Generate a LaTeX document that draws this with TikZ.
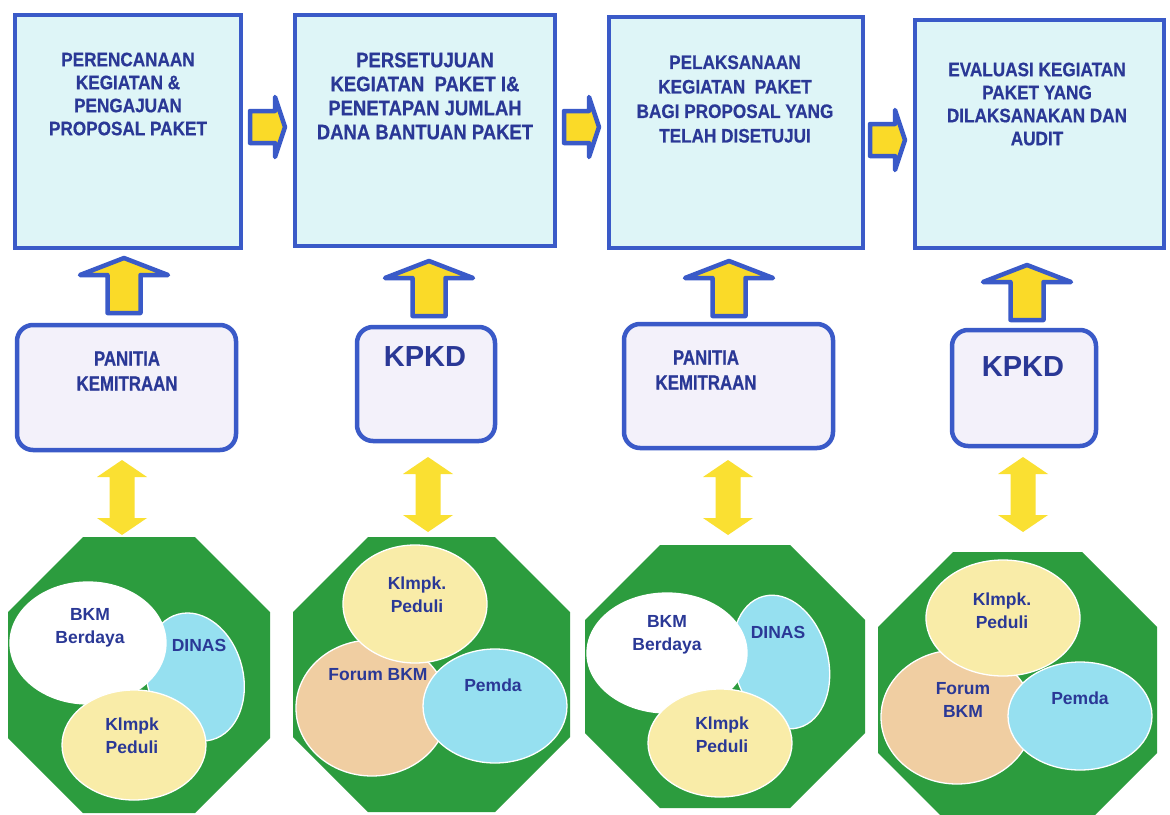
\documentclass[tikz,border=0pt]{standalone}
\usepackage{fontspec}
\setmainfont{Liberation Sans}
\newfontfamily\condfont[FakeStretch=0.82,FakeBold=0.6]{Liberation Sans}
\newfontfamily\topfont[FakeStretch=0.88,FakeBold=0.5]{Liberation Sans}
\usetikzlibrary{shapes.geometric,calc}
\definecolor{boxblue}{RGB}{58,90,200}
\definecolor{txtblue}{RGB}{42,56,150}
\definecolor{topfill}{RGB}{222,245,247}
\definecolor{midfill}{RGB}{243,241,250}
\definecolor{arrowyellow}{RGB}{250,218,40}
\definecolor{dblyellow}{RGB}{250,224,50}
\definecolor{octgreen}{RGB}{44,156,62}
\definecolor{ellyellow}{RGB}{249,236,168}
\definecolor{ellorange}{RGB}{240,206,162}
\definecolor{ellblue}{RGB}{150,224,240}
\tikzset{
 topbox/.style={rectangle, draw=boxblue, line width=4.5pt, fill=topfill, inner sep=0pt},
 midbox/.style={rectangle, draw=boxblue, line width=4.5pt, fill=midfill, rounded corners=16pt, inner sep=0pt},
 toptext/.style={text=txtblue, align=center, inner sep=0pt, font=\topfont\bfseries\fontsize{19.5}{23}\selectfont},
 toptextb/.style={text=txtblue, align=center, inner sep=0pt, font=\topfont\bfseries\fontsize{21}{24}\selectfont},
 toptextc/.style={text=txtblue, align=center, inner sep=0pt, font=\topfont\bfseries\fontsize{19.5}{24.5}\selectfont},
 pantext/.style={text=txtblue, align=center, inner sep=0pt, font=\condfont\bfseries\fontsize{20.5}{25}\selectfont},
 kpkdtext/.style={text=txtblue, align=center, inner sep=0pt, font=\bfseries\fontsize{29}{32}\selectfont},
 blockarrow/.style={draw=boxblue, line width=4.5pt, fill=arrowyellow, line join=round},
 dblarrow/.style={fill=dblyellow},
 oct/.style={fill=octgreen},
 ell/.style={ellipse, draw=white, line width=1.3pt, inner sep=0pt},
 elltext/.style={text=txtblue, align=center, inner sep=0pt, font=\bfseries\fontsize{17.5}{23}\selectfont},
}
\newcommand{\octfill}[4]{\fill[oct] ({#1+75},#2) -- ({#3-75},#2) -- (#3,{#2+75}) -- (#3,{#4-75}) -- ({#3-75},#4) -- ({#1+75},#4) -- (#1,{#4-75}) -- (#1,{#2+75}) -- cycle;}
\newcommand{\rightarrowshape}[1]{\draw[blockarrow, shift={(#1)}] (2,-16) -- (27,-16) -- (27,-30) -- (37,0) -- (27,30) -- (27,16) -- (2,16) -- cycle;}
\newcommand{\uparrowshape}[1]{\draw[blockarrow, shift={(#1)}] (-16.5,-2) -- (-16.5,-40) -- (-44,-40) -- (0,-57) -- (44,-40) -- (16.5,-40) -- (16.5,-2) -- cycle;}
\newcommand{\dblarrowshape}[1]{\fill[dblarrow, shift={(#1)}] (0,0) -- (25,17) -- (12.5,17) -- (12.5,58) -- (25,58) -- (0,75) -- (-25,58) -- (-12.5,58) -- (-12.5,17) -- (-25,17) -- cycle;}
\begin{document}
\begin{tikzpicture}[x=1pt,y=-1pt]
\useasboundingbox (0,0) rectangle (1170,814);
\fill[white] (0,0) rectangle (1170,814);
\clip (0,0) rectangle (1170,814);

% top boxes
\node[topbox, minimum width=226pt, minimum height=233pt] (b1) at (128,131.5) {};
\node[topbox, minimum width=260pt, minimum height=231pt] (b2) at (425,130.5) {};
\node[topbox, minimum width=254pt, minimum height=231pt] (b3) at (736,132.5) {};
\node[topbox, minimum width=249pt, minimum height=228pt] (b4) at (1039.5,134) {};

\node[toptext] (t1) at (128,94) {PERENCANAAN\\KEGIATAN \&\\PENGAJUAN\\PROPOSAL PAKET};
\node[toptextb] (t2) at (425,96) {PERSETUJUAN\\KEGIATAN~~PAKET I\&\\PENETAPAN JUMLAH\\DANA BANTUAN PAKET};
\node[toptextc] (t3) at (735,99) {PELAKSANAAN\\KEGIATAN~~PAKET\\BAGI PROPOSAL YANG\\TELAH DISETUJUI};
\node[toptext] (t4) at (1037,104) {EVALUASI KEGIATAN\\PAKET YANG\\DILAKSANAKAN DAN\\AUDIT};

% right arrows between top boxes
\coordinate (ra1) at (248,127);
\coordinate (ra2) at (562,127);
\coordinate (ra3) at (868,140);
\rightarrowshape{ra1}
\rightarrowshape{ra2}
\rightarrowshape{ra3}

% middle boxes
\node[midbox, minimum width=219pt, minimum height=125pt] (m1) at (126.5,387.5) {};
\node[midbox, minimum width=138pt, minimum height=114pt] (m2) at (426,384) {};
\node[midbox, minimum width=209pt, minimum height=124pt] (m3) at (728.5,386) {};
\node[midbox, minimum width=144pt, minimum height=116pt] (m4) at (1024,388) {};

\node[pantext] (p1) at (127,371) {PANITIA\\KEMITRAAN};
\node[kpkdtext] (k1) at (425,357) {KPKD};
\node[pantext] (p3) at (706,370) {PANITIA\\KEMITRAAN};
\node[kpkdtext] (k2) at (1023,367) {KPKD};

% up arrows
\coordinate (ua1) at (124,315);
\coordinate (ua2) at (429,318);
\coordinate (ua3) at (729,318);
\coordinate (ua4) at (1027,322);
\uparrowshape{ua1}
\uparrowshape{ua2}
\uparrowshape{ua3}
\uparrowshape{ua4}

% double arrows
\coordinate (da1) at (122,460);
\coordinate (da2) at (428,457);
\coordinate (da3) at (728,460);
\coordinate (da4) at (1023,457);
\dblarrowshape{da1}
\dblarrowshape{da2}
\dblarrowshape{da3}
\dblarrowshape{da4}

% octagons
\octfill{8}{537}{270}{813}
\octfill{293}{537}{570}{812}
\octfill{585}{545}{865}{808}
\octfill{878}{552}{1157}{828}

% octagon 1
\node[ell, fill=ellblue, minimum width=96pt, minimum height=130pt, rotate=15] (d1) at (195,677) {};
\node[ell, fill=white, minimum width=156pt, minimum height=122pt] (w1) at (88,643) {};
\node[ell, fill=ellyellow, minimum width=144pt, minimum height=110pt] (y1) at (134,745) {};
\node[elltext] (bt1) at (90,628) {BKM\\Berdaya};
\node[elltext] (dt1) at (199,645) {DINAS};
\node[elltext] (kt1) at (132,736) {Klmpk\\Peduli};

% octagon 2
\node[ell, fill=ellorange, minimum width=152pt, minimum height=136pt] (f2) at (372,708) {};
\node[ell, fill=ellyellow, minimum width=144pt, minimum height=118pt] (y2) at (415,604) {};
\node[ell, fill=ellblue, minimum width=144pt, minimum height=114pt] (q2) at (495,706) {};
\node[elltext] (kt2) at (417,595) {Klmpk.\\Peduli};
\node[elltext] (ft2) at (378,675) {Forum BKM};
\node[elltext] (pt2) at (493,685) {Pemda};

% octagon 3
\node[ell, fill=ellblue, minimum width=94pt, minimum height=136pt, rotate=15] (d3) at (781,662) {};
\node[ell, fill=white, minimum width=160pt, minimum height=120pt] (w3) at (667,653) {};
\node[ell, fill=ellyellow, minimum width=144pt, minimum height=108pt] (y3) at (720,743) {};
\node[elltext] (bt3) at (667,635) {BKM\\Berdaya};
\node[elltext] (dt3) at (778,632) {DINAS};
\node[elltext] (kt3) at (722,735) {Klmpk\\Peduli};

% octagon 4
\node[ell, fill=ellorange, minimum width=152pt, minimum height=134pt] (f4) at (957,717) {};
\node[ell, fill=ellyellow, minimum width=154pt, minimum height=116pt] (y4) at (1003,618) {};
\node[ell, fill=ellblue, minimum width=144pt, minimum height=108pt] (q4) at (1080,716) {};
\node[elltext] (kt4) at (1002,611) {Klmpk.\\Peduli};
\node[elltext] (ft4) at (963,700) {Forum\\BKM};
\node[elltext] (pt4) at (1080,698) {Pemda};
\end{tikzpicture}
\end{document}
